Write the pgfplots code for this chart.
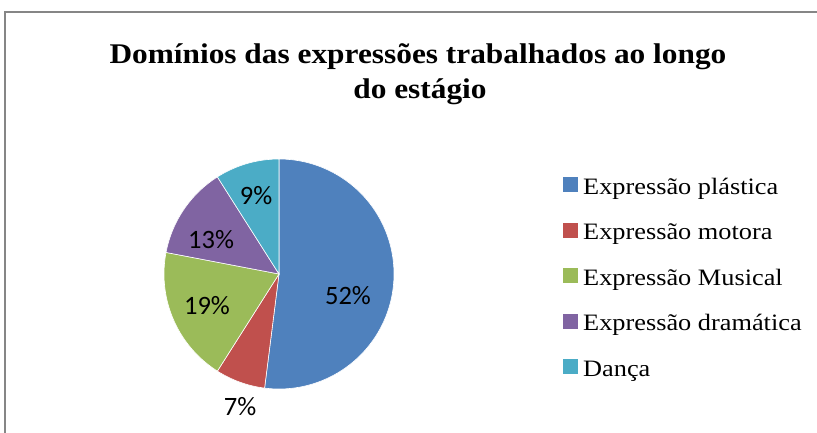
\documentclass[border=0pt]{standalone}
\usepackage{pgfplots}
\pgfplotsset{compat=1.18}
\usepackage{pgfplotstable}
\usepackage{fontspec}
\setmainfont{Liberation Serif}
\newfontfamily\titlefont[FakeStretch=1.1]{Liberation Serif}
\newfontfamily\legfont[FakeStretch=1.12]{Liberation Serif}
\newfontfamily\labfont{Carlito}

\definecolor{cA}{HTML}{4F81BD}
\definecolor{cB}{HTML}{C0504D}
\definecolor{cC}{HTML}{9BBB59}
\definecolor{cD}{HTML}{8064A2}
\definecolor{cE}{HTML}{4BACC6}
\definecolor{frame}{RGB}{134,134,134}

\pgfplotstableread{
value
52
7
19
13
9
}\piedata

\pgfplotstablegetelem{0}{value}\of\piedata \edef\vA{\pgfplotsretval}
\pgfplotstablegetelem{1}{value}\of\piedata \edef\vB{\pgfplotsretval}
\pgfplotstablegetelem{2}{value}\of\piedata \edef\vC{\pgfplotsretval}
\pgfplotstablegetelem{3}{value}\of\piedata \edef\vD{\pgfplotsretval}
\pgfplotstablegetelem{4}{value}\of\piedata \edef\vE{\pgfplotsretval}
\pgfmathsetmacro\aA{90}
\pgfmathsetmacro\aB{\aA-3.6*\vA}
\pgfmathsetmacro\aC{\aB-3.6*\vB}
\pgfmathsetmacro\aD{\aC-3.6*\vC}
\pgfmathsetmacro\aE{\aD-3.6*\vD}
\pgfmathsetmacro\aF{\aE-3.6*\vE}

\begin{document}
\begin{tikzpicture}
\useasboundingbox (0,0) rectangle (817pt,-432pt);
\begin{scope}
\clip (0,0) rectangle (817pt,-432pt);
\draw[frame, line width=1.5pt] (5pt,-12pt) rectangle (900pt,-500pt);
\end{scope}

\node[anchor=base, font=\titlefont\bfseries\fontsize{28.5}{34}\selectfont] at (418pt,-63pt) {Domínios das expressões trabalhados ao longo};
\node[anchor=base, font=\titlefont\bfseries\fontsize{28.5}{34}\selectfont] at (420pt,-98pt) {do estágio};

\begin{axis}[
  at={(279pt,-274pt)}, anchor=center,
  scale only axis, width=230pt, height=230pt,
  xmin=-1, xmax=1, ymin=-1, ymax=1,
  hide axis, clip=false,
]
\addplot[fill=cA, draw=white, line width=0.6pt, domain=\aB:\aA, samples=120, variable=\t] ({cos(\t)},{sin(\t)}) -- (0,0) -- cycle;
\addplot[fill=cB, draw=white, line width=0.6pt, domain=\aC:\aB, samples=30, variable=\t] ({cos(\t)},{sin(\t)}) -- (0,0) -- cycle;
\addplot[fill=cC, draw=white, line width=0.6pt, domain=\aD:\aC, samples=50, variable=\t] ({cos(\t)},{sin(\t)}) -- (0,0) -- cycle;
\addplot[fill=cD, draw=white, line width=0.6pt, domain=\aE:\aD, samples=40, variable=\t] ({cos(\t)},{sin(\t)}) -- (0,0) -- cycle;
\addplot[fill=cE, draw=white, line width=0.6pt, domain=\aF:\aE, samples=30, variable=\t] ({cos(\t)},{sin(\t)}) -- (0,0) -- cycle;

\node[font=\labfont\fontsize{26.5}{30}\selectfont] at (axis cs:0.60,-0.19) {\vA\%};
\node[font=\labfont\fontsize{26.5}{30}\selectfont] at (axis cs:-0.339,-1.157) {\vB\%};
\node[font=\labfont\fontsize{26.5}{30}\selectfont] at (axis cs:-0.626,-0.278) {\vC\%};
\node[font=\labfont\fontsize{26.5}{30}\selectfont] at (axis cs:-0.591,0.296) {\vD\%};
\node[font=\labfont\fontsize{26.5}{30}\selectfont] at (axis cs:-0.20,0.678) {\vE\%};
\end{axis}

% legend
\foreach \c/\t [count=\i from 0] in {cA/{Expressão plástica}, cB/{Expressão motora}, cC/{Expressão Musical}, cD/{Expressão dramática}, cE/{Dança}} {
  \pgfmathsetmacro\yy{-184.5-45.6*\i}
  \fill[\c] (563pt,\yy pt-7.5pt) rectangle (578pt,\yy pt+7.5pt);
  \node[anchor=base west, inner sep=0pt, font=\legfont\fontsize{23.5}{27}\selectfont] at (583pt,\yy pt-9.5pt) {\t};
}
\end{tikzpicture}
\end{document}
